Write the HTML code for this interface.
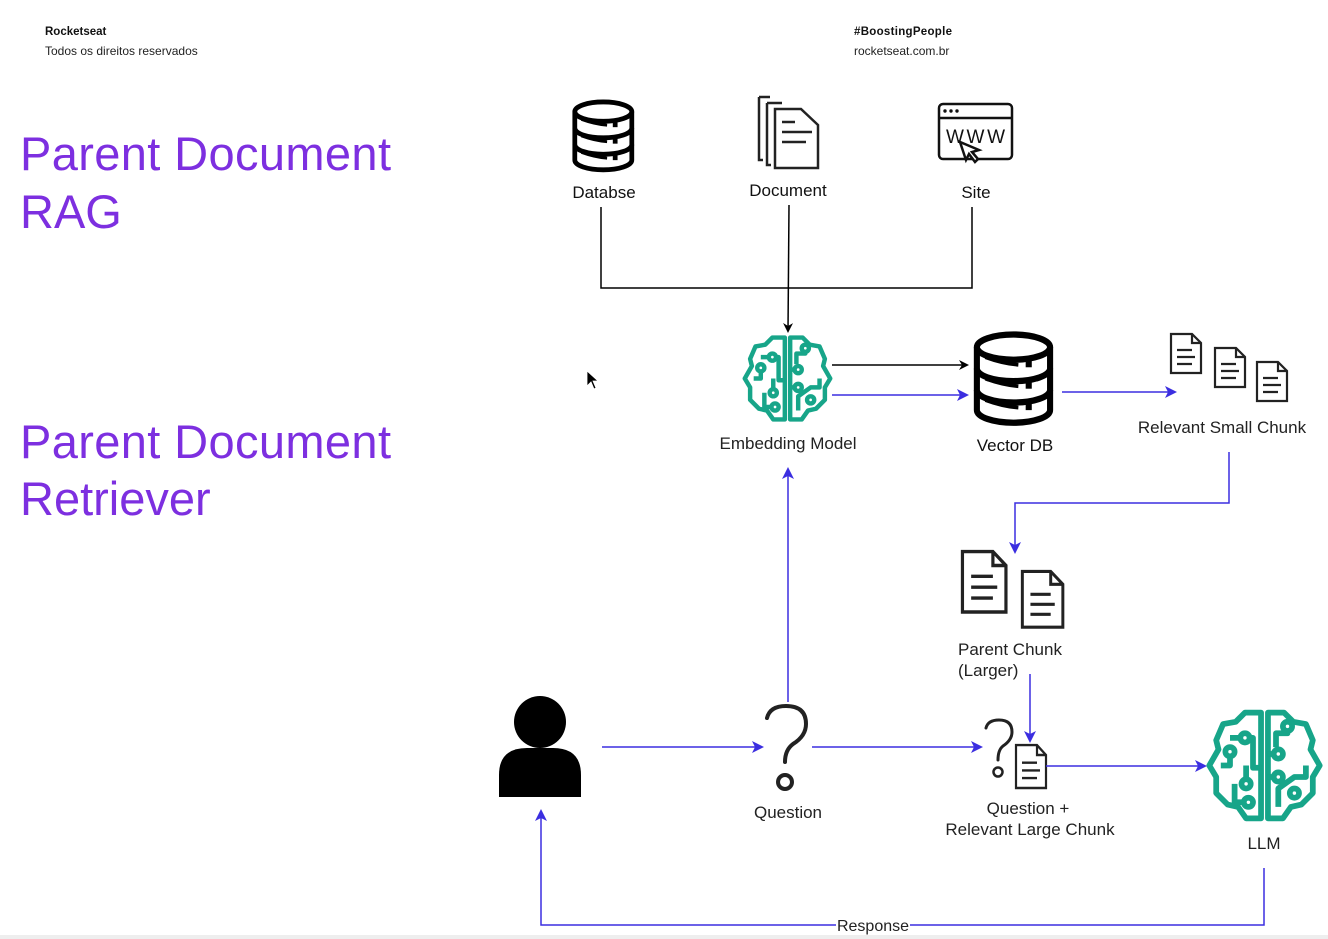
<!DOCTYPE html>
<html><head><meta charset="utf-8"><style>
html,body{margin:0;padding:0;background:#fff}
svg{display:block}
text{font-family:"Liberation Sans",sans-serif}
</style></head><body>
<svg width="1328" height="939" viewBox="0 0 1328 939" xmlns="http://www.w3.org/2000/svg">
<defs>
<marker id="ab" markerWidth="10" markerHeight="10" refX="8" refY="5" orient="auto" markerUnits="userSpaceOnUse"><path d="M0,0 L10,5 L0,10 L3,5 Z" fill="#000"/></marker>
<marker id="ap" markerWidth="12" markerHeight="12" refX="10" refY="6" orient="auto" markerUnits="userSpaceOnUse"><path d="M0,0 L12,6 L0,12 L3,6 Z" fill="#3b2ee0"/></marker>
<g id="brain" fill="none" stroke="#17a589" stroke-width="5" stroke-linejoin="round">
<path d="M47,4 L33,4 L25,12 L14,14 L8,28 L10,36 L2,50 L8,60 L8,74 L18,84 L27,86 L34,96 L47,96 Z"/>
<path d="M53,4 L67,4 L75,12 L86,14 L92,28 L90,36 L98,50 L92,60 L92,74 L82,84 L73,86 L66,96 L53,96 Z"/>
<path d="M20,26 L30,26 M36,26 L40,26 L40,52 L47,52"/>
<circle cx="33" cy="26" r="4"/>
<path d="M20,42 L20,50 L12,50"/><circle cx="20" cy="38" r="4"/>
<path d="M34,50 L34,62"/><circle cx="34" cy="66" r="4"/>
<path d="M24,66 L24,82 L32,82"/><circle cx="36" cy="82" r="4"/>
<path d="M70,20 L70,22 L60,22 L60,34"/><circle cx="70" cy="16" r="4"/>
<path d="M53,40 L58,40"/><circle cx="62" cy="40" r="4"/>
<path d="M53,60 L58,60"/><circle cx="62" cy="60" r="4"/>
<path d="M62,86 L62,70 L76,60 L86,60 L86,50"/>
<circle cx="76" cy="74" r="4"/>
</g>
<g id="db" stroke="#000" stroke-width="5">
<path d="M4,12 A30,10 0 0 1 64,12 L64,62 A30,10 0 0 1 4,62 Z" fill="#fff"/>
<path d="M4,12 A30,10 0 0 0 64,12" fill="none"/>
<path d="M4,29 A30,10 0 0 0 64,29 M4,46 A30,10 0 0 0 64,46" fill="none"/>
<path d="M11,20 Q25,25 38,26 M11,37 Q25,42 38,43 M11,54 Q25,59 38,60" stroke-width="3" fill="none"/>
<rect x="44" y="23" width="5" height="5" fill="#000" stroke="none"/>
<rect x="44" y="40" width="5" height="5" fill="#000" stroke="none"/>
<rect x="44" y="57" width="5" height="5" fill="#000" stroke="none"/>
</g>
<g id="doc" fill="#fff" stroke="#222" stroke-width="2.2">
<path d="M1,1 L22,1 L31,10 L31,40 L1,40 Z"/><path d="M22,1 L22,10 L31,10" fill="none"/>
<path d="M7,17 L22,17 M7,24 L25,24 M7,31 L22,31" fill="none"/>
</g>
</defs>

<text x="45" y="35" font-size="11.5" font-weight="bold" fill="#111">Rocketseat</text>
<text x="45" y="55" font-size="12" fill="#222">Todos os direitos reservados</text>
<text x="854" y="35" font-size="11.5" font-weight="bold" fill="#111" textLength="98">#BoostingPeople</text>
<text x="854" y="55" font-size="12" fill="#222">rocketseat.com.br</text>

<g font-size="47" fill="#7d2fe0">
<text x="20" y="170" textLength="371">Parent Document</text>
<text x="20" y="228">RAG</text>
<text x="20" y="458" textLength="371">Parent Document</text>
<text x="20" y="515">Retriever</text>
</g>

<!-- top icons -->
<use href="#db" transform="translate(571,100) scale(0.95,0.97)"/>
<g fill="#fff" stroke="#222" stroke-width="2.5">
<path d="M759,97 L770,97 M759,97 L759,160 L763,160" fill="none"/>
<path d="M767,103 L782,103 M767,103 L767,165 L771,165" fill="none"/>
<path d="M775,109 L801,109 L818,125 L818,168 L775,168 Z"/>
<path d="M782,122 L795,122 M782,132 L812,132 M782,142 L806,142" fill="none"/>
</g>
<g fill="none" stroke="#111" stroke-width="2.5">
<rect x="939" y="104" width="73" height="55" rx="4"/>
<path d="M939,118 L1012,118"/>
<text x="946" y="143" font-size="19" fill="#111" stroke="none" stroke-width="0.5" letter-spacing="1" textLength="60">WWW</text>
<path d="M960,142 L966,160 L969,154 L975,162 L978,159 L972,152 L979,150 Z" fill="#fff"/>
</g>
<circle cx="945" cy="111" r="1.7" fill="#111"/><circle cx="951" cy="111" r="1.7" fill="#111"/><circle cx="957" cy="111" r="1.7" fill="#111"/>
<g font-size="17" fill="#111" text-anchor="middle">
<text x="604" y="198">Databse</text>
<text x="788" y="196">Document</text>
<text x="976" y="198">Site</text>
</g>
<g fill="none" stroke="#000" stroke-width="1.5">
<path d="M601,207 L601,288 L972,288 L972,207"/>
<path d="M789,205 L788,331" marker-end="url(#ab)"/>
<path d="M832,365 L967,365" marker-end="url(#ab)"/>
</g>

<use href="#brain" transform="translate(743,334) scale(0.89)"/>
<text x="788" y="449" font-size="17" fill="#222" text-anchor="middle">Embedding Model</text>
<use href="#db" transform="translate(972,332) scale(1.22,1.26)"/>
<text x="1015" y="451" font-size="17" fill="#111" text-anchor="middle">Vector DB</text>

<use href="#doc" transform="translate(1170,333)"/>
<use href="#doc" transform="translate(1214,347)"/>
<use href="#doc" transform="translate(1256,361)"/>
<text x="1222" y="433" font-size="17" fill="#222" text-anchor="middle">Relevant Small Chunk</text>

<use href="#doc" transform="translate(961,550) scale(1.45,1.55)"/>
<use href="#doc" transform="translate(1021,570) scale(1.35,1.43)"/>
<text x="958" y="655" font-size="17" fill="#222">Parent Chunk</text>
<text x="958" y="676" font-size="17" fill="#222">(Larger)</text>

<!-- person -->
<circle cx="540" cy="722" r="26" fill="#000"/>
<path d="M499,797 L499,775 Q499,748 527,748 L553,748 Q581,748 581,775 L581,797 Z" fill="#000"/>

<!-- question marks -->
<g fill="none" stroke="#222" stroke-width="4" stroke-linecap="round">
<path d="M767,718 Q770,706 786,706 Q806,706 806,724 Q806,736 793,744 Q785,750 785,762"/>
<circle cx="785" cy="782" r="7"/>
<path d="M986,728 Q988,720 999,720 Q1012,720 1012,732 Q1012,740 1003,746 Q998,750 998,760" stroke-width="3"/>
<circle cx="998" cy="772" r="4.5" stroke-width="2.5"/>
</g>
<text x="788" y="818" font-size="17" fill="#222" text-anchor="middle">Question</text>
<use href="#doc" transform="translate(1015,744) scale(1.0,1.1)"/>
<text x="1028" y="814" font-size="17" fill="#222" text-anchor="middle">Question +</text>
<text x="1030" y="835" font-size="17" fill="#222" text-anchor="middle">Relevant Large Chunk</text>

<use href="#brain" transform="translate(1207,708) scale(1.15)"/>
<text x="1264" y="849" font-size="17" fill="#222" text-anchor="middle">LLM</text>

<!-- purple connectors -->
<g fill="none" stroke="#3b2ee0" stroke-width="1.5">
<path d="M832,395 L967,395" marker-end="url(#ap)"/>
<path d="M1062,392 L1175,392" marker-end="url(#ap)"/>
<path d="M1229,452 L1229,503 L1015,503 L1015,552" marker-end="url(#ap)"/>
<path d="M1030,674 L1030,741" marker-end="url(#ap)"/>
<path d="M602,747 L762,747" marker-end="url(#ap)"/>
<path d="M788,702 L788,469" marker-end="url(#ap)"/>
<path d="M812,747 L981,747" marker-end="url(#ap)"/>
<path d="M1046,766 L1205,766" marker-end="url(#ap)"/>
<path d="M1264,868 L1264,925 L541,925 L541,811" marker-end="url(#ap)"/>
</g>
<rect x="836" y="916" width="74" height="18" fill="#fff"/>
<text x="873" y="931" font-size="16" fill="#222" text-anchor="middle">Response</text>

<!-- cursor -->
<path d="M587,371 L587,386 L591,382 L594,389 L596,388 L593,381 L598,381 Z" fill="#000" stroke="#fff" stroke-width="0.8"/>
<rect x="0" y="935" width="1328" height="4" fill="#eee"/>
</svg>
</body></html>
